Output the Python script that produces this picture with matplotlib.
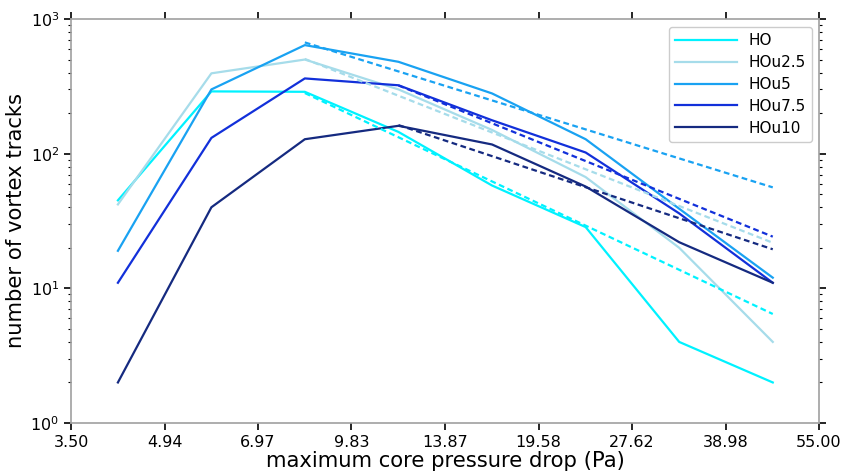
import numpy as np
import matplotlib
matplotlib.use("Agg")
import matplotlib.pyplot as plt
from matplotlib.ticker import FixedLocator, FixedFormatter, LogLocator, NullFormatter, NullLocator

# bin edges / tick labels
tick_values = [3.50, 4.94, 6.97, 9.83, 13.87, 19.58, 27.62, 38.98, 55.00]
tick_labels = ["3.50", "4.94", "6.97", "9.83", "13.87", "19.58", "27.62", "38.98", "55.00"]
# bin centres (geometric)
bin_centres = [4.16, 5.87, 8.28, 11.69, 16.50, 23.29, 32.87, 46.39]

labels = ["HO", "HOu2.5", "HOu5", "HOu7.5", "HOu10"]
colors = ["#00f2ff", "#a6dcea", "#19a2f2", "#1230da", "#152a80"]

HO     = [45, 290, 288, 145, 58, 28.5, 4.0, 2.0]
HOu2_5 = [42, 395, 500, 300, 150, 67, 20, 4.0]
HOu5   = [19, 300, 640, 481, 280, 128, 39, 12]
HOu7_5 = [11, 131, 362, 322, 177, 102, 36, 11]
HOu10  = [2, 40, 128, 161, 117, 57, 22, 11]
series = [HO, HOu2_5, HOu5, HOu7_5, HOu10]

# power-law fit lines (start bin index, value at start, value at last bin)
fit_start_idx = [2, 2, 2, 3, 3]
fit_start_val = [282, 505, 670, 321, 163]
fit_end_val   = [6.45, 21.8, 56.2, 24.2, 19.5]

fig = plt.figure(figsize=(8.47, 4.74), dpi=100)
ax = fig.add_axes([71/847, 1-423/474, (819-71)/847, (423-19)/474])

for vals, c, lab in zip(series, colors, labels):
    ax.plot(bin_centres, vals, color=c, lw=1.6, label=lab)
for i, c in enumerate(colors):
    s = fit_start_idx[i]
    ax.plot([bin_centres[s], bin_centres[-1]], [fit_start_val[i], fit_end_val[i]],
            color=c, lw=1.6, dashes=(2.6, 1.6))

ax.set_xscale("log")
ax.set_yscale("log")
ax.set_xlim(3.5, 55.0)
ax.set_ylim(1, 1000)
ax.xaxis.set_major_locator(FixedLocator(tick_values))
ax.xaxis.set_major_formatter(FixedFormatter(tick_labels))
ax.xaxis.set_minor_locator(NullLocator())
ax.yaxis.set_major_locator(LogLocator(base=10, numticks=10))
ax.yaxis.set_minor_locator(LogLocator(base=10, subs=np.arange(2, 10), numticks=10))
ax.yaxis.set_minor_formatter(NullFormatter())

for sp in ax.spines.values():
    sp.set_color("#a0a0a0")
    sp.set_linewidth(1.2)
ax.tick_params(which="both", direction="out", top=True, right=True, color="black", labelsize=11.5)
ax.tick_params(which="major", length=5, width=1.2)
ax.tick_params(which="minor", length=2.5, width=0.8)

ax.set_xlabel("maximum core pressure drop (Pa)", fontsize=15.2, labelpad=1)
ax.set_ylabel("number of vortex tracks", fontsize=15.2, labelpad=3)

leg = ax.legend(loc="upper right", fontsize=11, handlelength=4.1, frameon=True,
                fancybox=True, borderpad=0.4, labelspacing=0.45, handletextpad=0.75,
                borderaxespad=0, bbox_to_anchor=(0.991, 0.98))
leg.get_frame().set_edgecolor("#c0c0c0")

fig.savefig("out.png", dpi=100)
